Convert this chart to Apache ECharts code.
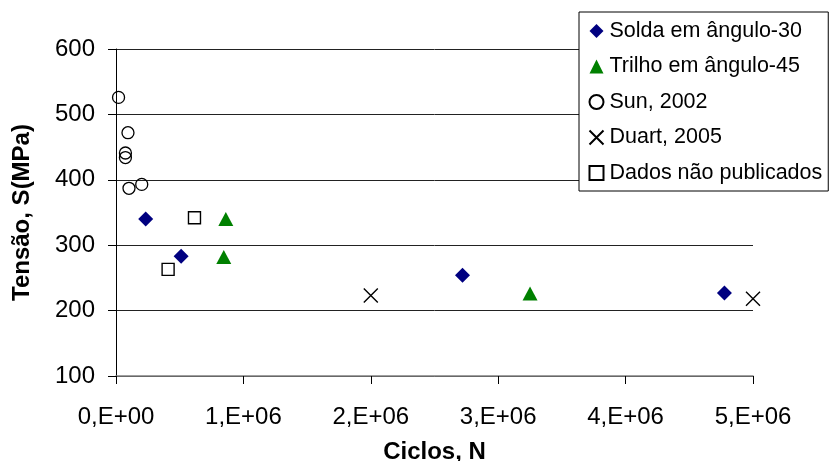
<!DOCTYPE html>
<html>
<head>
<meta charset="utf-8">
<script src="https://cdn.jsdelivr.net/npm/echarts@6/dist/echarts.min.js"></script>
<style>html,body{margin:0;padding:0;background:#fff}#c{width:829px;height:461px}</style>
</head>
<body>
<div id="c"></div>
<script>
var seriesNames = ['Solda em ângulo-30', 'Trilho em ângulo-45', 'Sun, 2002', 'Duart, 2005', 'Dados não publicados'];
var solda = [[233000, 340], [511000, 283], [2720000, 254], [4776000, 227]];
var trilho = [[862000, 340], [846000, 282], [3250000, 226]];
var sun = [[20000, 526], [94000, 472], [74000, 441], [74000, 434], [102000, 387], [202000, 393]];
var duart = [[2000000, 223], [5000000, 218]];
var dados = [[616000, 342], [409000, 263]];
var xTickLabels = ['0,E+00', '1,E+06', '2,E+06', '3,E+06', '4,E+06', '5,E+06'];
var yTickLabels = ['100', '200', '300', '400', '500', '600'];

var FONT = 'Liberation Sans';
var chart = echarts.init(document.getElementById('c'), null, {renderer: 'canvas'});
var crossPath = 'path://M0,0L10,10M10,0L0,10';
chart.setOption({
  animation: false,
  backgroundColor: '#fff',
  textStyle: {fontFamily: FONT, color: '#000'},
  grid: {left: 116, right: 76, top: 49, bottom: 85, containLabel: false, outerBoundsMode: 'none'},
  legend: {
    orient: 'vertical', left: 579, top: 12,
    padding: [8, 6, 7, 8], itemGap: 13.5,
    itemWidth: 14, itemHeight: 14,
    backgroundColor: '#fff', borderColor: '#000', borderWidth: 1, borderRadius: 0,
    textStyle: {fontFamily: FONT, fontSize: 21.5, color: '#000', padding: [0, 0, 0, 1]},
    data: seriesNames
  },
  xAxis: {
    type: 'value', min: 0, max: 5000000, interval: 1000000,
    name: 'Ciclos, N', nameLocation: 'middle', nameGap: 64,
    nameTextStyle: {fontFamily: FONT, fontSize: 24, fontWeight: 'bold', color: '#000'},
    axisLine: {show: true, onZero: false, lineStyle: {color: '#808080', width: 1.5}},
    axisTick: {show: true, inside: false, length: 8, lineStyle: {color: '#000', width: 1}},
    axisLabel: {fontFamily: FONT, fontSize: 24, color: '#000', margin: 29,
      formatter: function (v) { return xTickLabels[Math.round(v / 1000000)]; }},
    splitLine: {show: false}
  },
  yAxis: {
    type: 'value', min: 100, max: 600, interval: 100,
    name: 'Tensão, S(MPa)', nameLocation: 'middle', nameGap: 82, nameRotate: 90,
    nameTextStyle: {fontFamily: FONT, fontSize: 24, fontWeight: 'bold', color: '#000'},
    axisLine: {show: true, onZero: false, lineStyle: {color: '#000', width: 1}},
    axisTick: {show: true, inside: false, length: 8, lineStyle: {color: '#000', width: 1}},
    axisLabel: {fontFamily: FONT, fontSize: 24, color: '#000', margin: 21,
      formatter: function (v) { return yTickLabels[Math.round((v - 100) / 100)]; }},
    splitLine: {show: true, lineStyle: {color: '#222', width: 1}}
  },
  series: [
    {name: seriesNames[0], type: 'scatter', data: solda, symbol: 'diamond', symbolSize: 15,
      itemStyle: {color: '#000080', opacity: 1}},
    {name: seriesNames[1], type: 'scatter', data: trilho, symbol: 'triangle', symbolSize: [15, 14],
      itemStyle: {color: '#008000', opacity: 1}},
    {name: seriesNames[2], type: 'scatter', data: sun, symbol: 'circle', symbolSize: 12,
      itemStyle: {color: 'none', borderColor: '#000', borderWidth: 1.3, opacity: 1}},
    {name: seriesNames[3], type: 'scatter', data: duart, symbol: crossPath, symbolSize: 14,
      itemStyle: {color: 'none', borderColor: '#000', borderWidth: 1.4, opacity: 1}},
    {name: seriesNames[4], type: 'scatter', data: dados, symbol: 'rect', symbolSize: 12,
      itemStyle: {color: 'none', borderColor: '#000', borderWidth: 1.4, opacity: 1}}
  ]
});
</script>
</body>
</html>
